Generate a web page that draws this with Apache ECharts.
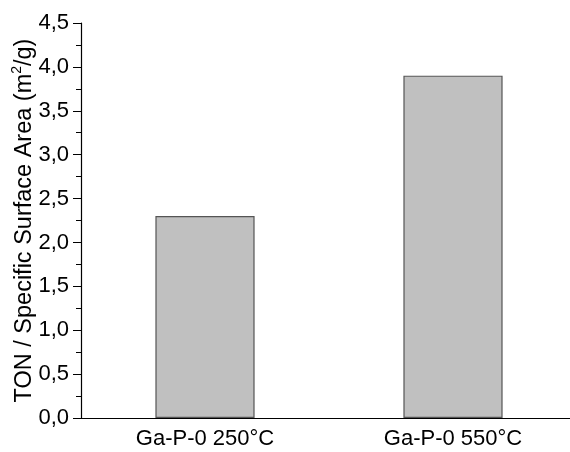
<!DOCTYPE html>
<html><head><meta charset="utf-8">
<script src="https://cdn.jsdelivr.net/npm/echarts@6/dist/echarts.min.js"></script>
<style>html,body{margin:0;padding:0;background:#fff}#c{width:570px;height:452px}</style>
</head><body><div id="c"></div>
<script>
const categories = ['Ga-P-0 250°C', 'Ga-P-0 550°C'];
const values = [2.3, 3.9];
const yTicks = [0, 0.5, 1, 1.5, 2, 2.5, 3, 3.5, 4, 4.5];
const yNameMain = 'TON / Specific Surface Area (m';
const yNameSup = '2';
const yNameEnd = '/g)';

const chart = echarts.init(document.getElementById('c'), null, {renderer: 'canvas'});
const font = 'Liberation Sans, Arial, sans-serif';
chart.setOption({
  animation: false,
  backgroundColor: '#fff',
  grid: {left: 81, top: 23, width: 496, height: 395, containLabel: false, outerBoundsMode: 'none'},
  xAxis: {
    type: 'category', data: categories,
    axisLine: {lineStyle: {color: '#000', width: 1.2}},
    axisTick: {alignWithLabel: true, length: 6, lineStyle: {color: '#000'}},
    axisLabel: {color: '#000', fontSize: 22, fontFamily: font, margin: 10}
  },
  yAxis: {
    type: 'value', min: yTicks[0], max: yTicks[yTicks.length - 1], interval: 0.5,
    name: '{n|' + yNameMain + '}{s|' + yNameSup + '}{n|' + yNameEnd + '}',
    nameLocation: 'middle', nameGap: 44, nameMoveOverlap: false,
    nameTextStyle: {color: '#000', fontSize: 23.5, fontFamily: font,
      rich: {
        n: {color: '#000', fontSize: 23.5, fontFamily: font, lineHeight: 27, verticalAlign: 'bottom'},
        s: {color: '#000', fontSize: 14, fontFamily: font, lineHeight: 27, verticalAlign: 'top'}
      }},
    axisLine: {show: true, lineStyle: {color: '#000', width: 1.2}},
    axisTick: {show: true, length: 8, lineStyle: {color: '#000'}},
    minorTick: {show: true, splitNumber: 2, length: 5, lineStyle: {color: '#000'}},
    splitLine: {show: false},
    axisLabel: {color: '#000', fontSize: 22, fontFamily: font, margin: 12,
      formatter: v => v.toFixed(1).replace('.', ',')}
  },
  series: [{
    type: 'bar', data: values, barWidth: '40%',
    itemStyle: {color: '#c0c0c0', borderColor: '#555', borderWidth: 1.2}
  }]
});
</script></body></html>
